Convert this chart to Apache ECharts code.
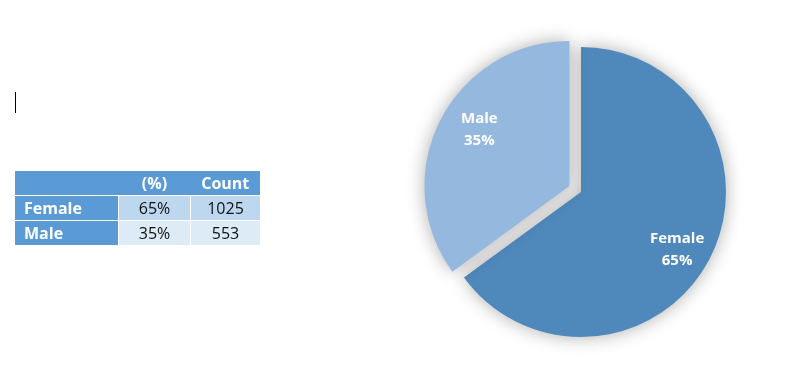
<!DOCTYPE html>
<html>
<head>
<meta charset="utf-8">
<script src="https://cdn.jsdelivr.net/npm/echarts@6/dist/echarts.min.js"></script>
<style>
  html, body { margin: 0; padding: 0; background: #fff; }
  #chart { position: absolute; left: 0; top: 0; width: 812px; height: 379px; }
  #cursor { position: absolute; left: 15px; top: 92px; width: 1px; height: 21px; background: #000; }
  #tbl { position: absolute; left: 15px; top: 171px; border-collapse: collapse;
         font-family: "Open Sans", sans-serif; font-size: 16px; }
  #tbl td { padding: 0; height: 24px; line-height: 24px; border: 1px solid #fff; }
  #tbl tr.hdr td { background: #5B9BD5; color: #fff; font-weight: bold; text-align: center; border-left: none; border-right: none; border-top: none; height: 23px; }
  #tbl td.name { background: #5B9BD5; color: #fff; font-weight: bold; text-align: left; padding-left: 9px; width: 94px; border-left: none; }
  #tbl tr.r0 td.v { background: #BDD7EE; color: #111; text-align: center; }
  #tbl tr.r1 td.v { background: #DDEBF7; color: #111; text-align: center; }
  #tbl td.c1 { width: 71px; }
  #tbl td.c2 { width: 69px; border-right: none; }
</style>
</head>
<body>
<div id="chart"></div>
<div id="cursor"></div>
<table id="tbl"></table>
<script>
// ---- data ----
const categories = ["Female", "Male"];
const counts = [1025, 553];
const percents = ["65%", "35%"];
const tableHeaders = ["", "(%)", "Count"];
const sliceColors = ["#4F88BB", "#95B8DF"];

// ---- table ----
const tbl = document.getElementById('tbl');
let html = '<tr class="hdr">';
tableHeaders.forEach((h, i) => { html += '<td class="' + (i === 0 ? 'h0' : 'c' + i) + '">' + h + '</td>'; });
html += '</tr>';
categories.forEach((c, i) => {
  html += '<tr class="r' + i + '"><td class="name">' + c + '</td><td class="v c1">' + percents[i] +
          '</td><td class="v c2">' + counts[i] + '</td></tr>';
});
tbl.innerHTML = html;

// ---- chart ----
const chart = echarts.init(document.getElementById('chart'), null, { renderer: 'canvas' });
const pieData = categories.map((c, i) => ({
  name: c, value: counts[i], selected: c === "Male",
  itemStyle: { color: sliceColors[i] }
}));
const labelData = categories.map((c, i) => ({
  name: c, value: counts[i], selected: c === "Male"
}));
chart.setOption({
  animation: false,
  series: [
    {
      type: 'pie',
      center: [581, 192],
      radius: [0, 145],
      startAngle: 90,
      clockwise: true,
      selectedMode: 'multiple',
      selectedOffset: 13,
      silent: true,
      data: pieData,
      itemStyle: { shadowBlur: 18, shadowColor: 'rgba(0,0,0,0.32)', borderWidth: 0 },
      label: { show: false },
      labelLine: { show: false },
      emphasis: { disabled: true }
    },
    {
      type: 'pie',
      center: [581, 192],
      radius: [0, 214],
      startAngle: 90,
      clockwise: true,
      selectedMode: 'multiple',
      selectedOffset: 13,
      silent: true,
      percentPrecision: 0,
      data: labelData,
      itemStyle: { color: 'rgba(0,0,0,0)' },
      label: {
        show: true, position: 'inside',
        formatter: '{b}\n{d}%',
        color: '#fff', fontWeight: 'bold', fontSize: 15, lineHeight: 22,
        fontFamily: 'Open Sans'
      },
      labelLayout: function (p) {
        return p.text.indexOf('Female') === 0 ? { dx: -2, dy: 8 } : { dx: 8, dy: -7 };
      },
      labelLine: { show: false },
      emphasis: { disabled: true }
    }
  ]
});
</script>
</body>
</html>
